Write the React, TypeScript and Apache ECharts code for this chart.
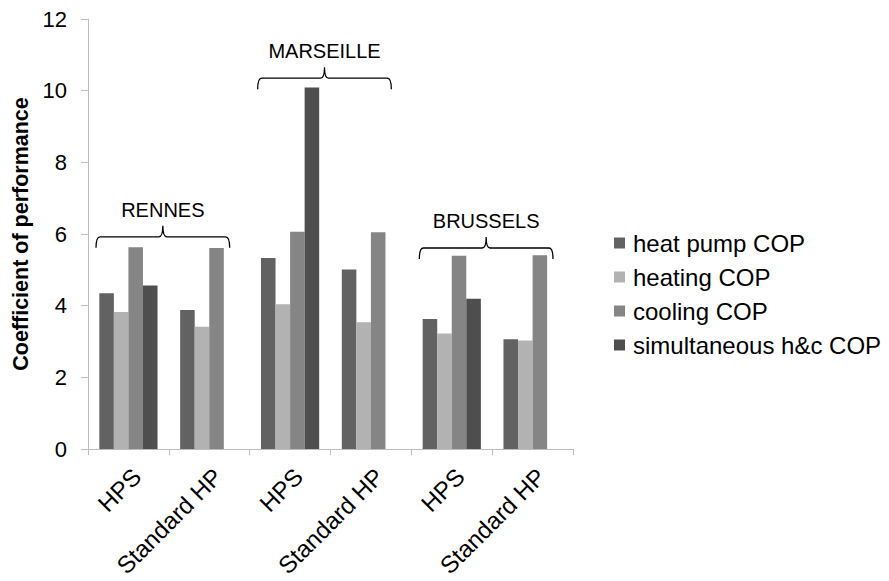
import React, { useEffect, useRef } from "react";
import * as echarts from "echarts";

const categories = ["HPS", "Standard HP", "HPS", "Standard HP", "HPS", "Standard HP"];
const seriesNames = ["heat pump COP", "heating COP", "cooling COP", "simultaneous h&c COP"];
const heatPumpCOP = [4.35, 3.88, 5.33, 5.01, 3.63, 3.06];
const heatingCOP = [3.82, 3.41, 4.04, 3.54, 3.22, 3.03];
const coolingCOP = [5.63, 5.61, 6.06, 6.05, 5.39, 5.41];
const simultaneousCOP = [4.56, null, 10.09, null, 4.19, null];
const seriesColors = ["#626262", "#b2b2b2", "#858585", "#4e4e4e"];
const groupLabels = ["RENNES", "MARSEILLE", "BRUSSELS"];
const braceLevels = [5.92, 10.35, 5.61];

let braceRegistered = false;
function registerBrace() {
  if (braceRegistered) return;
  const Brace = (echarts.graphic as any).extendShape({
    type: "brace",
    shape: { x0: 0, x1: 0, xm: 0, y: 0, h: 11, r: 4 },
    buildPath(ctx: any, s: any) {
      ctx.moveTo(s.x0, s.y + s.h);
      ctx.quadraticCurveTo(s.x0, s.y, s.x0 + s.r, s.y);
      ctx.lineTo(s.xm - s.r, s.y);
      ctx.quadraticCurveTo(s.xm, s.y, s.xm, s.y - s.h);
      ctx.quadraticCurveTo(s.xm, s.y, s.xm + s.r, s.y);
      ctx.lineTo(s.x1 - s.r, s.y);
      ctx.quadraticCurveTo(s.x1, s.y, s.x1, s.y + s.h);
    },
  });
  echarts.graphic.registerShape("brace", Brace);
  braceRegistered = true;
}

export default function App() {
  const ref = useRef<HTMLDivElement>(null);
  useEffect(() => {
    if (!ref.current) return;
    registerBrace();
    const chart = echarts.init(ref.current, undefined, { renderer: "svg" });
    const values = [heatPumpCOP, heatingCOP, coolingCOP, simultaneousCOP];
    chart.setOption({
      animation: false,
      textStyle: { fontFamily: "Liberation Sans, Arial, sans-serif" },
      grid: { left: 88, right: 316, top: 19, bottom: 132 },
      legend: {
        orient: "vertical",
        left: 614,
        top: 231,
        padding: 0,
        itemWidth: 11,
        itemHeight: 11,
        itemGap: 10,
        icon: "rect",
        textStyle: { fontSize: 24, color: "#000", padding: [0, 0, 0, 3] },
        data: seriesNames,
      },
      xAxis: {
        type: "category",
        data: categories,
        axisLine: { lineStyle: { color: "#bdbdbd", width: 1 } },
        axisTick: { show: true, length: 6, lineStyle: { color: "#bdbdbd" }, alignWithLabel: false },
        axisLabel: {
          rotate: 45,
          fontSize: 24,
          color: "#000",
          margin: 15,
          interval: 0,
          verticalAlign: "top",
        },
      },
      yAxis: {
        type: "value",
        min: 0,
        max: 12,
        interval: 2,
        name: "Coefficient of performance",
        nameLocation: "middle",
        nameGap: 54,
        nameTextStyle: { fontSize: 21.5, fontWeight: "bold", color: "#000" },
        splitLine: { show: false },
        axisLine: { show: true, lineStyle: { color: "#bdbdbd", width: 1 } },
        axisTick: { show: true, length: 7, lineStyle: { color: "#bdbdbd" } },
        axisLabel: { fontSize: 22, color: "#000", margin: 21 },
      },
      series: values.map((v, i) => ({
        name: seriesNames[i],
        type: "bar",
        data: v,
        barGap: "0%",
        barCategoryGap: "28%",
        itemStyle: { color: seriesColors[i] },
      })),
    });

    const graphics: any[] = [];
    groupLabels.forEach((label, g) => {
      const c0 = chart.convertToPixel({ xAxisIndex: 0 }, 2 * g) as number;
      const c1 = chart.convertToPixel({ xAxisIndex: 0 }, 2 * g + 1) as number;
      const bw = c1 - c0;
      const y = chart.convertToPixel({ yAxisIndex: 0 }, braceLevels[g]) as number;
      const x0 = c0 - bw / 2 + 8;
      const x1 = c1 + bw / 2 - 20;
      const xm = (x0 + x1) / 2;
      graphics.push({
        type: "brace",
        shape: { x0, x1, xm, y, h: 11, r: 4 },
        style: { stroke: "#000", fill: null, lineWidth: 1.3 },
        silent: true,
      });
      graphics.push({
        type: "text",
        x: xm,
        y: y - 27,
        style: {
          text: label,
          fill: "#000",
          font: "20px 'Liberation Sans', Arial, sans-serif",
          align: "center",
          verticalAlign: "middle",
        },
        silent: true,
      });
    });
    chart.setOption({ graphic: graphics });

    return () => chart.dispose();
  }, []);
  return <div ref={ref} style={{ width: 889, height: 581, position: "absolute", left: 0, top: 0 }} />;
}
